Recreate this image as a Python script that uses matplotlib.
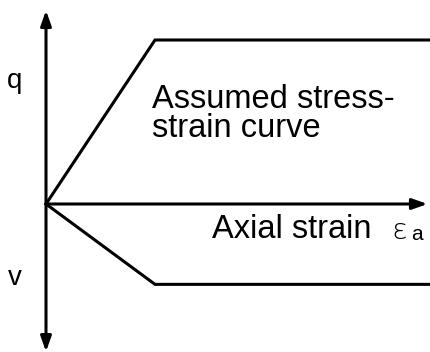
import matplotlib.pyplot as plt

# Idealised curves: deviator stress q and volumetric strain v vs axial strain
strain = [0.0, 1.0, 3.6]
q = [0.0, 1.0, 1.0]
v = [0.0, -0.49, -0.49]

plt.rcParams['font.family'] = ['Liberation Sans', 'DejaVu Sans']

fig = plt.figure(figsize=(4.3, 3.52), dpi=100)
ax = fig.add_axes([0, 0, 1, 1])
ax.set_xlim(-46 / 109, 384 / 109)
ax.set_ylim(-148 / 164, 204 / 164)
ax.axis('off')

lw = 2.2
ax.plot(strain, q, color='black', lw=lw, solid_joinstyle='miter')
ax.plot(strain, v, color='black', lw=lw, solid_joinstyle='miter')

# axes drawn as arrows
arrow = dict(arrowstyle='-|>,head_length=0.45,head_width=0.16', color='black',
             lw=lw, mutation_scale=20, shrinkA=0, shrinkB=0)
ax.annotate('', xy=(0, 1.18), xytext=(0, 0), arrowprops=arrow)
ax.annotate('', xy=(0, -0.9), xytext=(0, 0), arrowprops=arrow)
ax.annotate('', xy=(3.5, 0), xytext=(0, 0), arrowprops=arrow)

ax.text(-0.284, 0.75, 'q', fontsize=20, ha='center', va='center')
ax.text(-0.284, -0.45, 'v', fontsize=20, ha='center', va='center')

ax.text(0.97, 0.409, 'Assumed stress-\nstrain curve', fontsize=23.5,
        ha='left', va='baseline', linespacing=0.93)

ax.text(1.52, -0.21, 'Axial strain', fontsize=23.5, ha='left', va='baseline')
ax.text(3.17, -0.215, 'ε', fontsize=21, ha='left', va='baseline',
        family='DejaVu Sans', fontweight='light')
ax.text(3.35, -0.22, 'a', fontsize=15, ha='left', va='baseline')

fig.savefig('out.png', dpi=100)
